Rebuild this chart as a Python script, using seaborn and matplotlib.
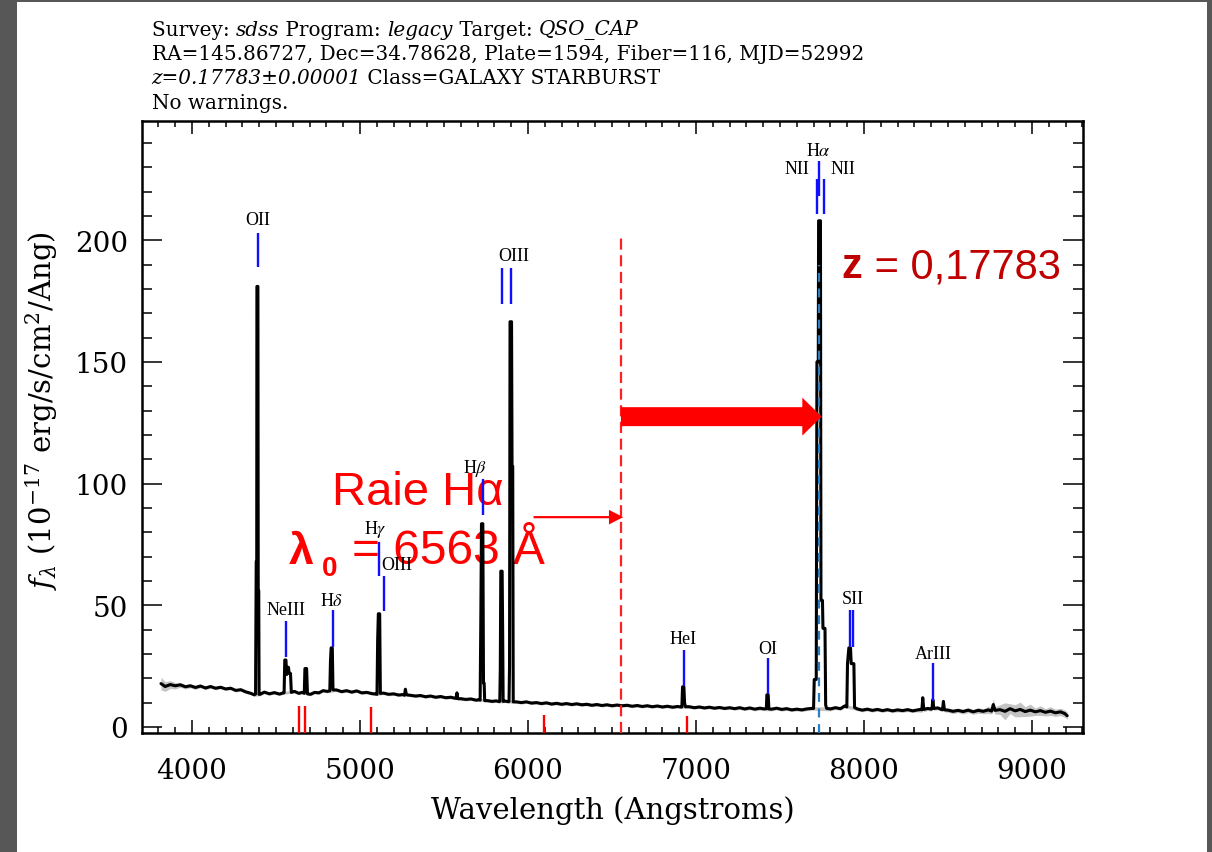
import numpy as np
import pandas as pd
import matplotlib
matplotlib.use('Agg')
import matplotlib.pyplot as plt
import seaborn as sns
from matplotlib.patches import FancyArrow, Rectangle
from matplotlib.ticker import MultipleLocator

# continuum: (wavelength, flux, error half-width)
continuum = [
    (3815, 17.8, 2.6), (3840, 16.6, 2.0), (3870, 17.4, 1.6), (3900, 16.9, 1.3), (3930, 17.3, 1.0),
    (3960, 16.5, 0.9), (3990, 16.9, 0.8), (4020, 16.2, 0.8), (4050, 16.8, 0.7), (4080, 16.0, 0.7),
    (4110, 16.6, 0.7), (4140, 15.9, 0.7), (4170, 16.3, 0.6), (4200, 15.6, 0.6), (4230, 15.9, 0.6),
    (4260, 15.0, 0.6), (4290, 15.3, 0.6), (4320, 14.4, 0.6), (4350, 13.8, 0.6), (4370, 13.2, 0.6),
    (4405, 13.4, 0.6), (4430, 14.3, 0.6), (4460, 13.6, 0.6), (4490, 14.1, 0.6), (4520, 13.5, 0.6),
    (4545, 14.0, 0.6), (4610, 14.6, 0.6), (4635, 13.8, 0.6), (4655, 14.2, 0.6), (4705, 13.4, 0.6),
    (4730, 14.2, 0.6), (4755, 14.0, 0.6), (4780, 14.9, 0.6), (4805, 14.6, 0.6), (4860, 15.2, 0.6),
    (4890, 14.5, 0.6), (4920, 14.9, 0.6), (4950, 14.3, 0.6), (4980, 14.8, 0.6), (5010, 14.0, 0.6),
    (5040, 14.2, 0.6), (5070, 13.7, 0.6), (5095, 13.5, 0.6), (5140, 13.9, 0.6), (5170, 13.4, 0.6),
    (5200, 13.6, 0.6), (5230, 13.1, 0.6), (5255, 13.3, 0.6), (5265, 13.0, 0.6), (5270, 15.5, 0.6),
    (5276, 13.2, 0.6), (5300, 13.0, 0.6), (5330, 12.7, 0.6), (5360, 12.9, 0.6), (5390, 12.4, 0.6),
    (5420, 12.7, 0.6), (5450, 12.2, 0.6), (5480, 12.5, 0.6), (5510, 12.0, 0.6), (5540, 12.2, 0.6),
    (5565, 11.8, 0.6), (5572, 11.8, 0.6), (5577, 14.0, 0.8), (5582, 11.6, 0.6), (5600, 11.6, 0.6),
    (5630, 11.3, 0.6), (5660, 11.5, 0.6), (5690, 11.0, 0.6), (5710, 11.2, 0.6), (5760, 10.8, 0.6),
    (5785, 10.5, 0.6), (5810, 10.7, 0.6), (5828, 10.4, 0.6), (5865, 10.6, 0.6), (5880, 10.4, 0.6),
    (5930, 10.3, 0.6), (5960, 10.0, 0.6), (5990, 10.3, 0.6), (6020, 9.8, 0.6), (6050, 10.0, 0.6),
    (6080, 9.6, 0.6), (6110, 9.9, 0.6), (6140, 9.4, 0.6), (6170, 9.7, 0.6), (6200, 9.3, 0.6),
    (6230, 9.6, 0.6), (6260, 9.2, 0.6), (6290, 9.5, 0.6), (6320, 9.1, 0.6), (6350, 9.3, 0.6),
    (6380, 8.9, 0.6), (6410, 9.2, 0.6), (6440, 8.8, 0.6), (6470, 9.1, 0.6), (6500, 8.7, 0.6),
    (6530, 9.0, 0.6), (6560, 8.7, 0.6), (6590, 8.9, 0.6), (6620, 8.5, 0.6), (6650, 8.8, 0.6),
    (6680, 8.4, 0.6), (6710, 8.7, 0.6), (6740, 8.3, 0.6), (6770, 8.6, 0.6), (6800, 8.2, 0.6),
    (6830, 8.5, 0.6), (6860, 8.1, 0.6), (6890, 8.4, 0.6), (6910, 8.2, 0.6), (6960, 8.3, 0.6),
    (6990, 7.9, 0.6), (7020, 8.2, 0.6), (7050, 7.8, 0.6), (7080, 8.1, 0.6), (7110, 7.7, 0.6),
    (7140, 8.0, 0.6), (7170, 7.6, 0.6), (7200, 7.9, 0.6), (7230, 7.5, 0.6), (7260, 7.9, 0.7),
    (7290, 7.4, 0.7), (7320, 7.8, 0.7), (7350, 7.3, 0.7), (7380, 7.7, 0.8), (7405, 7.4, 0.7),
    (7450, 7.3, 0.7), (7480, 7.7, 0.7), (7510, 7.2, 0.7), (7540, 7.5, 0.7), (7570, 7.0, 0.7),
    (7600, 7.3, 0.7), (7630, 7.0, 0.7), (7660, 7.4, 0.7), (7690, 7.6, 0.7), (7800, 7.4, 0.8),
    (7830, 7.9, 0.7), (7860, 7.5, 0.7), (7885, 8.6, 0.7), (7960, 7.4, 0.7), (7990, 6.9, 0.7),
    (8020, 7.3, 0.7), (8050, 6.8, 0.7), (8080, 7.2, 0.7), (8110, 6.7, 0.7), (8140, 7.1, 0.7),
    (8170, 6.6, 0.7), (8200, 7.0, 0.8), (8230, 6.7, 0.7), (8260, 7.1, 0.8), (8290, 6.6, 0.7),
    (8320, 7.0, 0.8), (8340, 7.2, 1.2), (8345, 7.0, 1.0), (8350, 12.0, 1.5), (8356, 7.2, 1.0),
    (8380, 7.6, 0.8), (8400, 7.3, 0.8), (8405, 7.5, 0.8), (8410, 11.2, 1.0), (8416, 7.6, 0.8),
    (8440, 7.8, 0.8), (8460, 7.2, 0.8), (8468, 7.1, 0.8), (8473, 10.5, 1.0), (8479, 7.0, 0.8),
    (8500, 6.9, 0.9), (8530, 6.4, 0.9), (8560, 6.8, 0.9), (8590, 6.3, 1.0), (8620, 6.9, 1.0),
    (8650, 6.2, 1.0), (8680, 6.8, 1.2), (8710, 6.4, 1.0), (8740, 7.0, 1.5), (8760, 6.5, 1.2),
    (8770, 9.2, 2.5), (8780, 6.8, 1.5), (8810, 7.1, 2.0), (8840, 6.4, 3.5), (8870, 7.5, 2.0),
    (8900, 6.6, 2.5), (8930, 7.2, 3.0), (8960, 6.3, 2.0), (8990, 6.9, 2.5), (9020, 6.2, 1.5),
    (9050, 6.7, 2.0), (9080, 6.0, 1.5), (9110, 6.5, 1.8), (9140, 5.8, 1.5), (9170, 6.2, 1.5),
    (9195, 5.5, 1.5), (9210, 4.6, 1.5),
]

# emission line profiles: (wavelength, flux)
oii = [(4378, 13.5), (4382, 68), (4385, 68), (4386, 181), (4392, 181), (4394, 56), (4397, 56), (4399, 13.4)]
neiii = [(4548, 14.0), (4552, 27.5), (4559, 27.5), (4563, 21.5), (4568, 24.5), (4574, 24.5),
         (4578, 22), (4586, 22), (4591, 14.2)]
neiii_b = [(4668, 13.8), (4672, 24), (4682, 24), (4687, 13.6)]
hdelta = [(4820, 14.8), (4824, 27), (4828, 32.5), (4835, 32.5), (4839, 15.2)]
hgamma = [(5101, 13.4), (5105, 36), (5109, 46.5), (5117, 46.5), (5121, 13.8)]
hbeta = [(5715, 11.0), (5719, 43.5), (5723, 83.5), (5731, 83.5), (5735, 18), (5739, 18), (5742, 10.8)]
oiii_a = [(5832, 10.5), (5835, 24), (5838, 64), (5846, 64), (5849, 40), (5852, 10.5)]
oiii_b = [(5887, 10.4), (5890, 25), (5893, 166.5), (5902, 166.5), (5905, 107), (5909, 107), (5912, 10.3)]
hei = [(6916, 8.2), (6920, 16.5), (6928, 16.5), (6932, 10), (6937, 8.3)]
oi = [(7419, 7.5), (7422, 13.2), (7430, 13.2), (7434, 7.4)]
halpha = [(7700, 7.6), (7704, 19.5), (7716, 19.5), (7720, 150), (7728, 150), (7730, 208), (7741, 208),
          (7744, 52), (7753, 52), (7756, 40.5), (7768, 40.5), (7772, 9), (7778, 7.6)]
sii = [(7898, 8.2), (7902, 26), (7910, 32.5), (7920, 32.5), (7924, 26), (7940, 26), (7944, 8)]

# line identification ticks (blue)
id_wave = [4390, 4560, 4837, 5115, 5145, 5730, 5843, 5901, 6926, 7426, 7720, 7734, 7760, 7914, 7934, 8411]
id_bottom = [189, 28.7, 33, 62, 47.5, 87, 174, 174, 17, 13.5, 210.7, 218, 210.7, 32.7, 32.7, 10.5]
id_top = [203, 43.4, 48, 76, 62, 102, 188.5, 188.5, 31.7, 28.3, 225, 232.5, 225, 48, 48, 26.2]
label_text = ['OII', 'NeIII', r'H$\delta$', r'H$\gamma$', 'OIII', r'H$\beta$', 'OIII', 'HeI', 'OI',
              'NII', r'H$\alpha$', 'NII', 'SII', 'ArIII']
label_x = [4390, 4560, 4833, 5091, 5220, 5687, 5915, 6922, 7426, 7601, 7730, 7875, 7932, 8411]
label_y = [206.5, 46.3, 50, 79.5, 64.7, 104.6, 191.8, 34.4, 30.3, 227.6, 235, 227.6, 50.8, 28.3]

# absorption markers (red, at the bottom)
abs_wave = [4639, 4674, 5067, 6097, 6948]
abs_top = [8.6, 8.6, 8.0, 5.0, 4.4]

lambda0_mark = 6553     # red dashed line, rest H-alpha
halpha_obs = 7734       # blue dashed line, observed H-alpha
ylow, yhigh = -2.5, 249

header = [
    [('Survey: ', 'normal'), ('sdss', 'italic'), (' Program: ', 'normal'), ('legacy', 'italic'),
     (' Target: ', 'normal'), ('QSO_CAP', 'italic')],
    [('RA=145.86727, Dec=34.78628, Plate=1594, Fiber=116, MJD=52992', 'normal')],
    [('z=0.17783±0.00001', 'italic'), (' Class=GALAXY STARBURST', 'normal')],
    [('No warnings.', 'normal')],
]


def unpack(rows):
    return [np.array(c, dtype=float) for c in zip(*rows)]


def main():
    sns.set_style('ticks')
    plt.rcParams['font.family'] = ['DejaVu Serif']
    plt.rcParams['mathtext.fontset'] = 'dejavuserif'
    for k in ['text.color', 'axes.labelcolor', 'xtick.color', 'ytick.color', 'axes.edgecolor']:
        plt.rcParams[k] = 'black'

    fig = plt.figure(figsize=(12.12, 8.53), dpi=100)
    W, H = 1212, 853
    ax = fig.add_axes([142 / W, 1 - 734 / H, (1083 - 142) / W, (734 - 122) / H])

    # page border of the screenshot
    for x0, y0, w, h in [(0, 0, 17, H), (0, H - 3, W, 3), (1207, 0, 5, H)]:
        fig.add_artist(Rectangle((x0 / W, y0 / H), w / W, h / H, transform=fig.transFigure,
                                 color='#575757', lw=0))

    cw, cf, ce = unpack(continuum)
    parts = [(cw, cf)] + [tuple(unpack(p)) for p in
                          [oii, neiii, neiii_b, hdelta, hgamma, hbeta, oiii_a, oiii_b, hei, oi, halpha, sii]]
    spec = pd.DataFrame({'wave': np.concatenate([p[0] for p in parts]),
                         'flux': np.concatenate([p[1] for p in parts])}).sort_values('wave')

    ax.fill_between(cw, cf - ce, cf + ce, color='#c4c4c4', lw=0, zorder=2)
    sns.lineplot(data=spec, x='wave', y='flux', sort=False, estimator=None,
                 color='black', lw=2.2, ax=ax, zorder=3)

    ax.vlines(id_wave, id_bottom, id_top, colors='#1010ff', lw=1.7, zorder=4)
    for t, x, y in zip(label_text, label_x, label_y):
        ax.text(x, y, t, ha='center', va='baseline', fontsize=13, family='Liberation Serif',
                math_fontfamily='stix', zorder=4)

    ax.vlines(abs_wave, ylow, abs_top, colors='#ff0000', lw=1.7, zorder=4)
    ax.vlines(lambda0_mark, ylow, 202.5, colors='#ff2020', lw=1.6, linestyles=(0, (5, 2.5)), zorder=4)
    ax.vlines(halpha_obs, ylow, 190, colors='#2a7fc4', lw=1.6, linestyles=(0, (4, 3)), zorder=5)

    # arrows
    ax.add_patch(FancyArrow(lambda0_mark, 127.5, 7748 - lambda0_mark, 0, width=7.8, head_width=15.6,
                            head_length=115, length_includes_head=True, color='#ff0000', lw=0, zorder=6))
    ax.add_patch(FancyArrow(6033, 86.2, lambda0_mark + 14 - 6033, 0, width=0.9, head_width=6.0,
                            head_length=85, length_includes_head=True, color='#ff0000', lw=0, zorder=6))

    # annotations
    ax.text(4833, 91.8, 'Raie H\u03b1', family='Liberation Sans', fontsize=34, color='#ff0000',
            va='baseline', ha='left', zorder=1)
    ax.text(4573, 67.2, '\u03bb', family='Liberation Sans', fontweight='bold', fontsize=32,
            color='#ff0000', va='baseline', zorder=1)
    ax.text(4774, 62.4, '0', family='Liberation Sans', fontweight='bold', fontsize=20,
            color='#ff0000', va='baseline', zorder=1)
    ax.text(4952, 67.2, '= 6563 \u00c5', family='Liberation Sans', fontsize=34.5, color='#ff0000',
            va='baseline', zorder=1)
    zt = ax.text(7868, 184.8, 'z', family='Liberation Sans', fontweight='bold', fontsize=30,
                 color='#c00000', va='baseline', zorder=6)
    ax.annotate(' = 0,17783', xy=(1, 0), xycoords=zt, va='bottom', family='Liberation Sans',
                fontsize=30, color='#c00000', zorder=6)

    # header lines, italic pieces chained after the upright ones
    for i, row in enumerate(header):
        y = 1 - (36 + 24.2 * i) / H
        prev = fig.text(151.7 / W, y, row[0][0], style=row[0][1], fontsize=14.4, va='baseline')
        for txt, st in row[1:]:
            prev = ax.annotate(txt, xy=(1, 0), xycoords=prev, va='bottom', style=st,
                               fontsize=14.4, annotation_clip=False)

    ax.set_xlim(3702, 9304)
    ax.set_ylim(ylow, yhigh)
    ax.xaxis.set_major_locator(MultipleLocator(1000))
    ax.xaxis.set_minor_locator(MultipleLocator(100))
    ax.yaxis.set_major_locator(MultipleLocator(50))
    ax.yaxis.set_minor_locator(MultipleLocator(10))
    ax.tick_params(which='both', direction='in', top=True, right=True, width=1.1, color='black')
    ax.tick_params(axis='x', which='major', length=9.5, pad=17, labelsize=20)
    ax.tick_params(axis='x', which='minor', length=4.5)
    ax.tick_params(axis='y', which='major', length=14.5, pad=10, labelsize=20)
    ax.tick_params(axis='y', which='minor', length=7.5)
    for s in ax.spines.values():
        s.set_linewidth(1.8)
        s.set_color('black')

    ax.set_xlabel('Wavelength (Angstroms)', fontsize=21, labelpad=8)
    ax.set_ylabel(r'$f_\lambda$ (10$^{-17}$ erg/s/cm$^2$/Ang)', fontsize=21)
    ax.yaxis.set_label_coords(-0.087, 0.529)

    fig.savefig('out.png', dpi=100, facecolor='white')


if __name__ == '__main__':
    main()
